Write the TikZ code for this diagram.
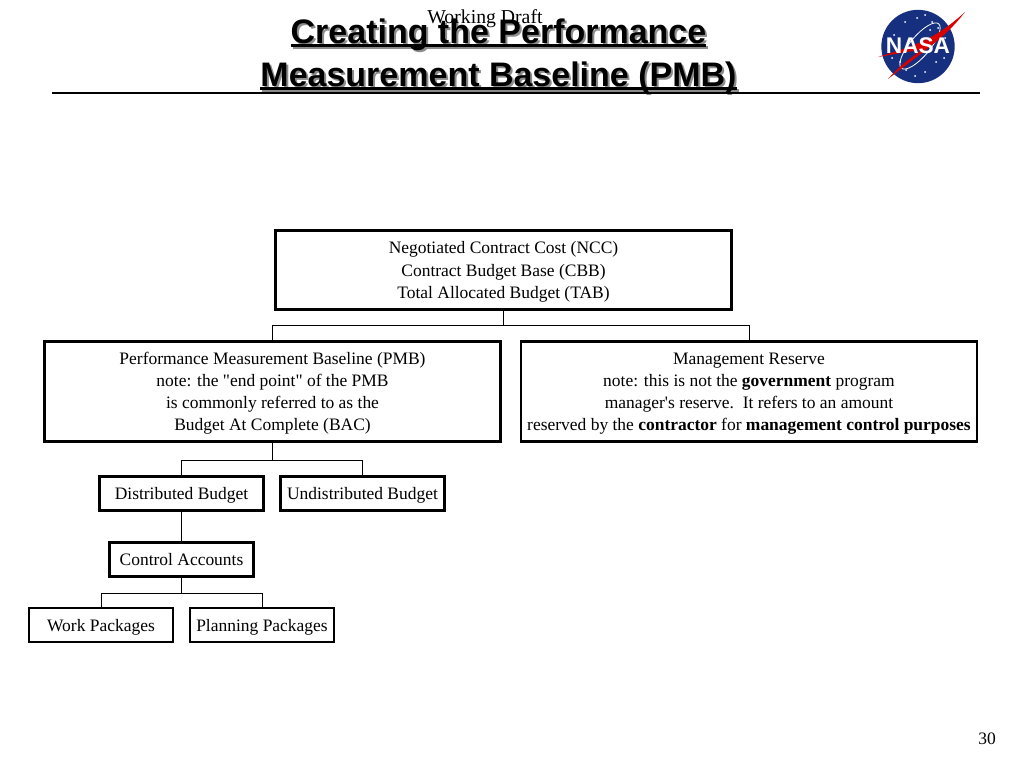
\documentclass[tikz,border=0pt]{standalone}
\usepackage{fontspec}
\setmainfont{Liberation Serif}[Ligatures=TeXOff]
\newfontfamily\titlefont{Liberation Sans}
\definecolor{nasa_blue}{HTML}{16307F}
\newsavebox{\titlebox}
\newcommand{\titleline}[1]{\sbox{\titlebox}{#1}\usebox{\titlebox}\llap{\rule[-2.2pt]{\wd\titlebox}{2pt}}}
\newcommand{\topstrut}{\rule{0pt}{12pt}}
\begin{document}
\begin{tikzpicture}[
        x=0.75pt, y=-0.75pt,
        base_box/.style={draw, line width=2pt, align=center, fill=white, inner sep=0pt, font=\fontsize{13.1}{16.6}\selectfont},
        top_box/.style={base_box, minimum width=342pt, minimum height=59pt},
        wide_box/.style={base_box, minimum width=342pt, minimum height=75pt},
        budget_box/.style={base_box, minimum width=123pt, minimum height=25.5pt, text height=12pt, text depth=3pt},
        leaf_box/.style={base_box, minimum width=108pt, minimum height=25.5pt, text height=12pt, text depth=3pt},
        tree_line/.style={draw, line width=0.75pt},
        title_text/.style={font=\titlefont\bfseries\fontsize{25.5}{32}\selectfont, align=center, inner sep=0pt},
        plain_text/.style={font=\fontsize{13.1}{15}\selectfont, inner sep=0pt},
        star_dot/.style={fill=white, draw=none, circle, inner sep=0pt, minimum size=1.5pt}
    ]
        \useasboundingbox (0,0) rectangle (1024,768);

        % Title
        \node[title_text, text=black!45] (title_shadow) at (500.5,58.5) {\titleline{Creating the Performance}\\\titleline{Measurement Baseline (PMB)}};
        \node[title_text] (title) at (498.5,56.5) {\titleline{Creating the Performance}\\\titleline{Measurement Baseline (PMB)}};
        \node[plain_text, font=\fontsize{14.8}{16}\selectfont] (draft) at (485,18.5) {Working Draft};
        \coordinate (rule_left) at (52,93);
        \coordinate (rule_right) at (980,93);
        \draw[line width=1.5pt] (rule_left) -- (rule_right);

        % Logo
        \node[circle, fill=nasa_blue, minimum size=55pt, inner sep=0pt] (logo) at (918,46.5) {};
        \foreach \sx/\sy in {905/22, 917/18, 925/15, 932/22, 938/28, 945/38, 894/35, 900/62, 906/70, 915/76, 925/72, 936/62, 944/58, 892/58, 930/30}
            \node[star_dot] at (\sx,\sy) {};
        \draw[white, line width=0.6pt, rotate around={50:(920,46)}] (920,46) ellipse (29 and 10);
        \fill[red!85!black] (965,12) .. controls (945,38) and (925,50) .. (888,79) .. controls (905,60) and (915,56) .. (921,50) .. controls (905,52) and (890,55) .. (878,57) .. controls (905,48) and (930,44) .. (965,12);
        \node[text=white, font=\titlefont\bfseries\fontsize{17}{17}\selectfont, inner sep=0pt] (logo_text) at (918,46) {NASA};

        % Boxes
        \node[top_box] (ncc) at (503.5,270) {\topstrut Negotiated Contract Cost (NCC)\\Contract Budget Base (CBB)\\Total Allocated Budget (TAB)};
        \node[wide_box] (pmb) at (272.5,391.5) {\topstrut Performance Measurement Baseline (PMB)\\note: the "end point" of the PMB\\is commonly referred to as the\\Budget At Complete (BAC)};
        \node[wide_box] (reserve) at (749,391.5) {\topstrut Management Reserve\\note: this is not the \textbf{government} program\\manager's reserve.\ \ It refers to an amount\\reserved by the \textbf{contractor} for \textbf{management control purposes}};
        \node[budget_box] (distributed) at (181.5,493.5) {Distributed Budget};
        \node[budget_box] (undistributed) at (362.5,493.5) {Undistributed Budget};
        \node[leaf_box] (accounts) at (181.5,559.5) {Control Accounts};
        \node[leaf_box] (work) at (101,625) {Work Packages};
        \node[leaf_box] (planning) at (262,625) {Planning Packages};

        % Tree lines
        \draw[tree_line] (ncc.south) -- ++(0,15) -| (pmb.north);
        \draw[tree_line] (ncc.south) -- ++(0,15) -| (reserve.north);
        \draw[tree_line] (pmb.south) -- ++(0,18) -| (distributed.north);
        \draw[tree_line] (pmb.south) -- ++(0,18) -| (undistributed.north);
        \draw[tree_line] (distributed.south) -- (accounts.north);
        \draw[tree_line] (accounts.south) -- ++(0,16) -| (work.north);
        \draw[tree_line] (accounts.south) -- ++(0,16) -| (planning.north);

        % Page number
        \node[plain_text] (page) at (987,739) {30};
    \end{tikzpicture}
\end{document}
